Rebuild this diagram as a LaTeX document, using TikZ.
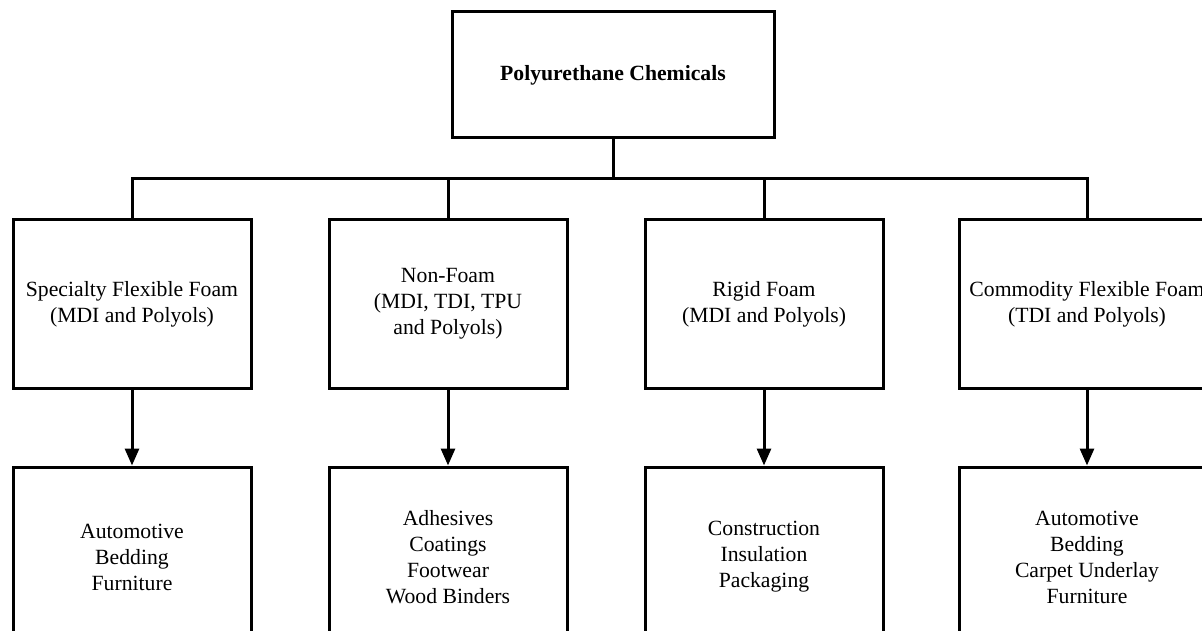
\documentclass[tikz,border=0pt]{standalone}
\usepackage{fontspec}
\setmainfont{Liberation Serif}
\usetikzlibrary{arrows.meta}
\tikzset{
  box/.style={draw,line width=3pt,align=center,inner sep=0pt,
    minimum width=238pt,minimum height=168pt,
    font=\fontsize{21.7}{26}\selectfont},
  feed/.style={-{Triangle[width=14pt,length=17pt]},line width=3pt}
}
\begin{document}
\begin{tikzpicture}[x=1pt,y=-1pt,line width=3pt]
  \useasboundingbox (0,0) rectangle (1202,631);
  \clip (0,0) rectangle (1202,631);

  \node[box,minimum width=322pt,minimum height=126pt,
    font=\fontsize{21.7}{26}\selectfont\bfseries] (pc) at (613,75) {Polyurethane Chemicals};

  \node[box] (spec) at (132,304) {Specialty Flexible Foam\\(MDI and Polyols)};
  \node[box] (non) at (448,304) {Non-Foam\\(MDI, TDI, TPU\\and Polyols)};
  \node[box] (rig) at (764,304) {Rigid Foam\\(MDI and Polyols)};
  \node[box,minimum width=256pt] (com) at (1087,304) {Commodity Flexible Foam\\(TDI and Polyols)};

  \node[box,minimum height=180pt] (specuse) at (132,557) {Automotive\\Bedding\\Furniture};
  \node[box,minimum height=180pt] (nonuse) at (448,557) {Adhesives\\Coatings\\Footwear\\Wood Binders};
  \node[box,minimum height=180pt] (riguse) at (764,557) {Construction\\Insulation\\Packaging};
  \node[box,minimum width=256pt,minimum height=180pt] (comuse) at (1087,557) {Automotive\\Bedding\\Carpet Underlay\\Furniture};

  \coordinate (bus) at (613,179);

  \draw (pc.south) -- (bus);
  \draw (spec.north) |- (bus) -| (com.north);
  \draw (non.north) -- (non.north |- bus);
  \draw (rig.north) -- (rig.north |- bus);

  \draw[feed] (spec) -- (specuse);
  \draw[feed] (non) -- (nonuse);
  \draw[feed] (rig) -- (riguse);
  \draw[feed] (com) -- (comuse);
\end{tikzpicture}
\end{document}
